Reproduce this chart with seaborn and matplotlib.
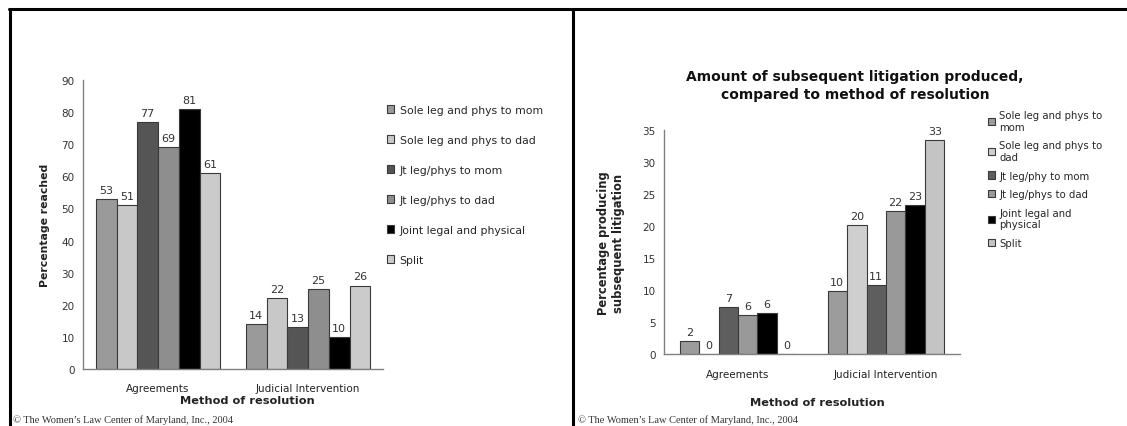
import pandas as pd
import numpy as np
import matplotlib.pyplot as plt
import seaborn as sns
from matplotlib.lines import Line2D

# --- data ---
methods = ['Agreements', 'Judicial Intervention']
arrangements = ['Sole leg and phys to mom', 'Sole leg and phys to dad', 'Jt leg/phys to mom',
                'Jt leg/phys to dad', 'Joint legal and physical', 'Split']
right_labels = ['Sole leg and phys to\nmom', 'Sole leg and phys to\ndad', 'Jt leg/phy to mom',
                'Jt leg/phys to dad', 'Joint legal and\nphysical', 'Split']

reached_agreements = [53, 51, 77, 69, 81, 61]
reached_judicial = [14, 22, 13, 25, 10, 26]
litigation_agreements = [2, 0, 7.3, 6.1, 6.4, 0]
litigation_judicial = [9.8, 20.2, 10.8, 22.3, 23.3, 33.4]

left_colors = ['#9a9a9a', '#c8c8c8', '#555555', '#8e8e8e', '#000000', '#cbcbcb']
right_colors = ['#9c9c9c', '#cfcfcf', '#5e5e5e', '#999999', '#000000', '#c4c4c4']

title = 'Amount of subsequent litigation produced,\ncompared to method of resolution'
credit = '\u00a9 The Women\u2019s Law Center of Maryland, Inc., 2004'


def long_frame(agree, judicial):
    rows = []
    for m, vals in zip(methods, [agree, judicial]):
        for a, v in zip(arrangements, vals):
            rows.append({'Method': m, 'Arrangement': a, 'Value': v})
    return pd.DataFrame(rows)


df_left = long_frame(reached_agreements, reached_judicial)
df_right = long_frame(litigation_agreements, litigation_judicial)

sns.set_style('white')
plt.rcParams['font.family'] = ['DejaVu Sans']

W, H = 1127, 427
fig = plt.figure(figsize=(W / 100, H / 100), dpi=100)


def px_axes(x0, x1, ytop, ybot):
    return fig.add_axes([x0 / W, 1 - ybot / H, (x1 - x0) / W, (ybot - ytop) / H])


def style_axes(ax, ymax, step, xpad):
    ax.set_ylim(0, ymax)
    ax.set_xlim(-0.5, 1.5)
    ax.set_yticks(np.arange(0, ymax + 1, step))
    sns.despine(ax=ax)
    for s in ['left', 'bottom']:
        ax.spines[s].set_color('#808080')
        ax.spines[s].set_linewidth(1)
    ax.tick_params(axis='y', length=3, color='#808080', labelsize=7.5, labelcolor='#333333', pad=3)
    ax.tick_params(axis='x', which='major', length=0, labelsize=7.5, labelcolor='#222222', pad=xpad)
    ax.set_xticks([-0.5, 0.5, 1.5], minor=True)
    ax.tick_params(axis='x', which='minor', length=3, color='#808080')
    ax.set_xlabel('')
    ax.set_ylabel('')
    for c in ax.containers:
        ax.bar_label(c, fmt='%.0f', padding=3, fontsize=8, color='#333333')


# --- left chart ---
ax1 = px_axes(83, 383, 81, 370)
sns.barplot(data=df_left, x='Method', y='Value', hue='Arrangement', hue_order=arrangements,
            palette=dict(zip(arrangements, left_colors)), saturation=1, width=0.83,
            edgecolor='#3a3a3a', linewidth=0.8, errorbar=None, ax=ax1)
handles, _ = ax1.get_legend_handles_labels()
ax1.get_legend().remove()
style_axes(ax1, 90, 10, 10)
fig.legend(handles, arrangements, loc='upper left', bbox_to_anchor=(377 / W, 1 - 96 / H),
           frameon=False, fontsize=7.8, handlelength=0.7, handleheight=0.7,
           handletextpad=0.5, labelspacing=1.85)
fig.text(45 / W, 1 - 225 / H, 'Percentage reached', rotation=90, ha='center', va='center',
         fontsize=7.8, fontweight='bold', color='#222222')
fig.text(247 / W, 1 - 401 / H, 'Method of resolution', ha='center', va='center',
         fontsize=8.2, fontweight='bold', color='#222222')

# --- right chart ---
ax2 = px_axes(664, 960, 131, 355)
sns.barplot(data=df_right, x='Method', y='Value', hue='Arrangement', hue_order=arrangements,
            palette=dict(zip(arrangements, right_colors)), saturation=1, width=0.79,
            edgecolor='#3a3a3a', linewidth=0.8, errorbar=None, ax=ax2)
handles, _ = ax2.get_legend_handles_labels()
ax2.get_legend().remove()
style_axes(ax2, 35, 5, 11)
fig.legend(handles, right_labels, loc='upper left', bbox_to_anchor=(979 / W, 1 - 102 / H),
           frameon=False, fontsize=7.3, handlelength=0.7, handleheight=0.7,
           handletextpad=0.4, labelspacing=0.85)
fig.text(855 / W, 1 - 86 / H, title, ha='center', va='center', fontsize=10,
         fontweight='bold', color='#111111', linespacing=1.3)
fig.text(611 / W, 1 - 243 / H, 'Percentage producing\nsubsequent litigation', rotation=90,
         ha='center', va='center', fontsize=8.3, fontweight='bold', color='#222222')
fig.text(817 / W, 1 - 403 / H, 'Method of resolution', ha='center', va='center',
         fontsize=8.2, fontweight='bold', color='#222222')

# --- credits and frame lines ---
for x in [13, 578]:
    fig.text(x / W, 1 - 420 / H, credit, ha='left', va='center', fontsize=7.5,
             family=['Liberation Serif', 'DejaVu Serif'], color='#333333')
fig.add_artist(Line2D([9 / W, 1], [1 - 10 / H] * 2, color='black', lw=2.2))
fig.add_artist(Line2D([10 / W] * 2, [0, 1 - 10 / H], color='black', lw=2.2))
fig.add_artist(Line2D([573 / W] * 2, [0, 1 - 10 / H], color='black', lw=2.2))

plt.savefig('out.png', dpi=100)
